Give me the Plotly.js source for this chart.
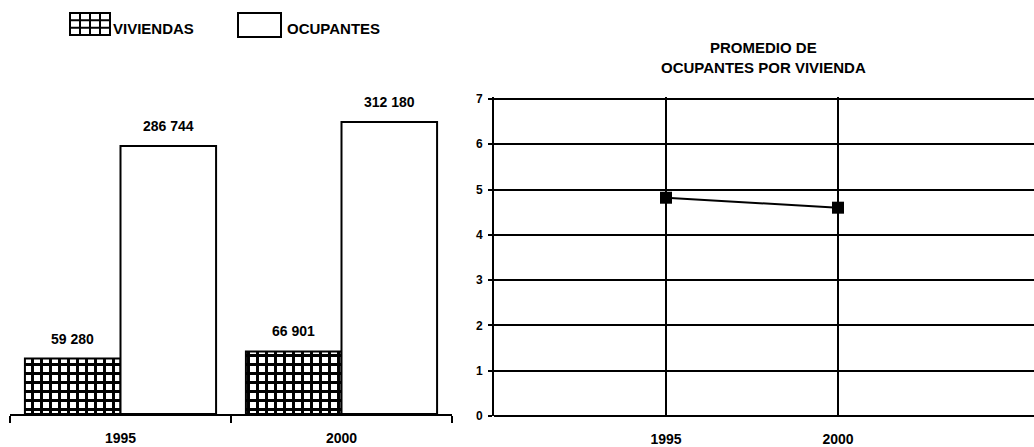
<!DOCTYPE html>
<html>
<head>
<meta charset="utf-8">
<script src="https://cdn.plot.ly/plotly-3.0.1.min.js"></script>
<style>html,body{margin:0;padding:0;background:#fff;}#chart{width:1034px;height:447px;}</style>
</head>
<body>
<div id="chart"></div>
<script>
// ---- data ----
const years = ["1995", "2000"];
const viviendas = [59280, 66901];
const ocupantes = [286744, 312180];
const promedioYears = [1995, 2000];
const promedio = [4.82, 4.6];
const seriesNames = ["VIVIENDAS", "OCUPANTES"];
const chartTitle = "PROMEDIO DE<br>OCUPANTES POR VIVIENDA";
const yMax = 7;

// ---- helpers ----
function fmt(v) { return String(v).replace(/\B(?=(\d{3})+(?!\d))/g, " "); }

const W = 1034, H = 447;
const FONT = "Liberation Sans, Arial, sans-serif";
const bold = (s) => "<b>" + s + "</b>";

const leftX0 = 10, leftX1 = 452;
const bargap = 0.135;
const leftBottom = 414, rightBottom = 416, plotTop = 99, rightTopPad = 2;

const traces = [
  {
    type: "bar", name: seriesNames[0], x: years, y: viviendas,
    xaxis: "x", yaxis: "y",
    marker: {
      color: "#fff",
      pattern: { shape: "+", fgcolor: "#000", bgcolor: "#fff", size: 9, solidity: 0.55 },
      line: { color: "#000", width: 2 }
    },
    hoverinfo: "none", showlegend: false
  },
  {
    type: "bar", name: seriesNames[1], x: years, y: ocupantes,
    xaxis: "x", yaxis: "y",
    marker: { color: "#fff", line: { color: "#000", width: 2 } },
    hoverinfo: "none", showlegend: false
  },
  {
    type: "scatter", mode: "lines+markers", x: promedioYears, y: promedio,
    xaxis: "x2", yaxis: "y2",
    line: { color: "#000", width: 2 },
    marker: { symbol: "square", size: 12, color: "#000" },
    hoverinfo: "none", showlegend: false, cliponaxis: false
  }
];

// bar value labels as annotations above each bar
const catW = (leftX1 - leftX0) / years.length;
const barW = catW * (1 - bargap) / 2;
const annotations = [];
[viviendas, ocupantes].forEach((vals, i) => {
  vals.forEach((v, j) => {
    annotations.push({
      x: j, y: v, xref: "x", yref: "y",
      text: bold(fmt(v)), showarrow: false,
      xanchor: "center", yanchor: "bottom",
      xshift: (i === 0 ? -1 : 1) * barW / 2, yshift: 10,
      font: { family: FONT, size: 14, color: "#000" }
    });
  });
});

const px = (x) => x / W, py = (y) => 1 - y / H;

// chart title of the right panel
annotations.push({
  x: px(763), y: py(57), xref: "paper", yref: "paper",
  text: bold(chartTitle), showarrow: false, xanchor: "center", yanchor: "middle",
  font: { family: FONT, size: 15, color: "#000" }, align: "center"
});

// custom legend (boxes + labels)
const lg = [
  { x0: 70, x1: 110, y0: 13, y1: 35, hatch: true, label: seriesNames[0], tx: 111 },
  { x0: 238, x1: 281, y0: 13, y1: 37, hatch: false, label: seriesNames[1], tx: 285 }
];
const shapes = [];
lg.forEach((b) => {
  shapes.push({ type: "rect", xref: "paper", yref: "paper",
    x0: px(b.x0), x1: px(b.x1), y0: py(b.y1), y1: py(b.y0),
    line: { color: "#000", width: 2 }, fillcolor: "#fff" });
  if (b.hatch) {
    const nc = 4, nr = 3;
    for (let k = 1; k < nc; k++) {
      const xx = b.x0 + (b.x1 - b.x0) * k / nc;
      shapes.push({ type: "line", xref: "paper", yref: "paper",
        x0: px(xx), x1: px(xx), y0: py(b.y1), y1: py(b.y0), line: { color: "#000", width: 2 } });
    }
    for (let k = 1; k < nr; k++) {
      const yy = b.y0 + (b.y1 - b.y0) * k / nr;
      shapes.push({ type: "line", xref: "paper", yref: "paper",
        x0: px(b.x0), x1: px(b.x1), y0: py(yy), y1: py(yy), line: { color: "#000", width: 2 } });
    }
  }
  annotations.push({
    x: px(b.tx), y: py(29), xref: "paper", yref: "paper",
    text: bold(b.label), showarrow: false, xanchor: "left", yanchor: "middle",
    font: { family: FONT, size: 15, color: "#000" }
  });
});

const rightX0 = 494;
const pxPerYear = 172 / 5;
const rightH = rightBottom - plotTop;

const layout = {
  width: W, height: H,
  margin: { l: 0, r: 0, t: 0, b: 0 },
  paper_bgcolor: "#fff", plot_bgcolor: "#fff",
  font: { family: FONT, color: "#000" },
  barmode: "group", bargap: bargap, bargroupgap: 0,
  showlegend: false,
  xaxis: {
    type: "category", domain: [leftX0 / W, leftX1 / W],
    range: [-0.5, years.length - 0.5], autorange: false,
    showline: true, linecolor: "#000", linewidth: 2,
    ticks: "outside", tickson: "boundaries", ticklen: 7, tickwidth: 2, tickcolor: "#000",
    showgrid: false, zeroline: false,
    tickfont: { family: FONT, size: 14, color: "#000", weight: "bold" },
    ticklabelstandoff: 10, fixedrange: true
  },
  yaxis: {
    domain: [(H - leftBottom) / H, (H - plotTop) / H],
    range: [0, (leftBottom - plotTop) / 0.000935], autorange: false,
    visible: false, fixedrange: true
  },
  xaxis2: {
    domain: [rightX0 / W, 1], anchor: "y2",
    range: [1990, 1990 + (W - rightX0) / pxPerYear], autorange: false,
    tickvals: promedioYears, ticktext: promedioYears.map(String),
    showgrid: true, gridcolor: "#000", gridwidth: 2,
    showline: false, zeroline: false, ticks: "",
    tickfont: { family: FONT, size: 14, color: "#000", weight: "bold" },
    ticklabelstandoff: 13, fixedrange: true
  },
  yaxis2: {
    domain: [(H - rightBottom) / H, (H - plotTop + rightTopPad) / H], anchor: "x2",
    range: [0, yMax * (rightH + rightTopPad) / rightH], autorange: false, dtick: 1, tick0: 0,
    showgrid: true, gridcolor: "#000", gridwidth: 2,
    zeroline: true, zerolinecolor: "#000", zerolinewidth: 2,
    showline: true, linecolor: "#000", linewidth: 2,
    ticks: "outside", ticklen: 4, tickwidth: 2, tickcolor: "#000",
    tickfont: { family: FONT, size: 12, color: "#000", weight: "bold" },
    ticklabelstandoff: 3, fixedrange: true
  },
  annotations: annotations,
  shapes: shapes
};

Plotly.newPlot("chart", traces, layout, { staticPlot: true, displayModeBar: false });
</script>
</body>
</html>
